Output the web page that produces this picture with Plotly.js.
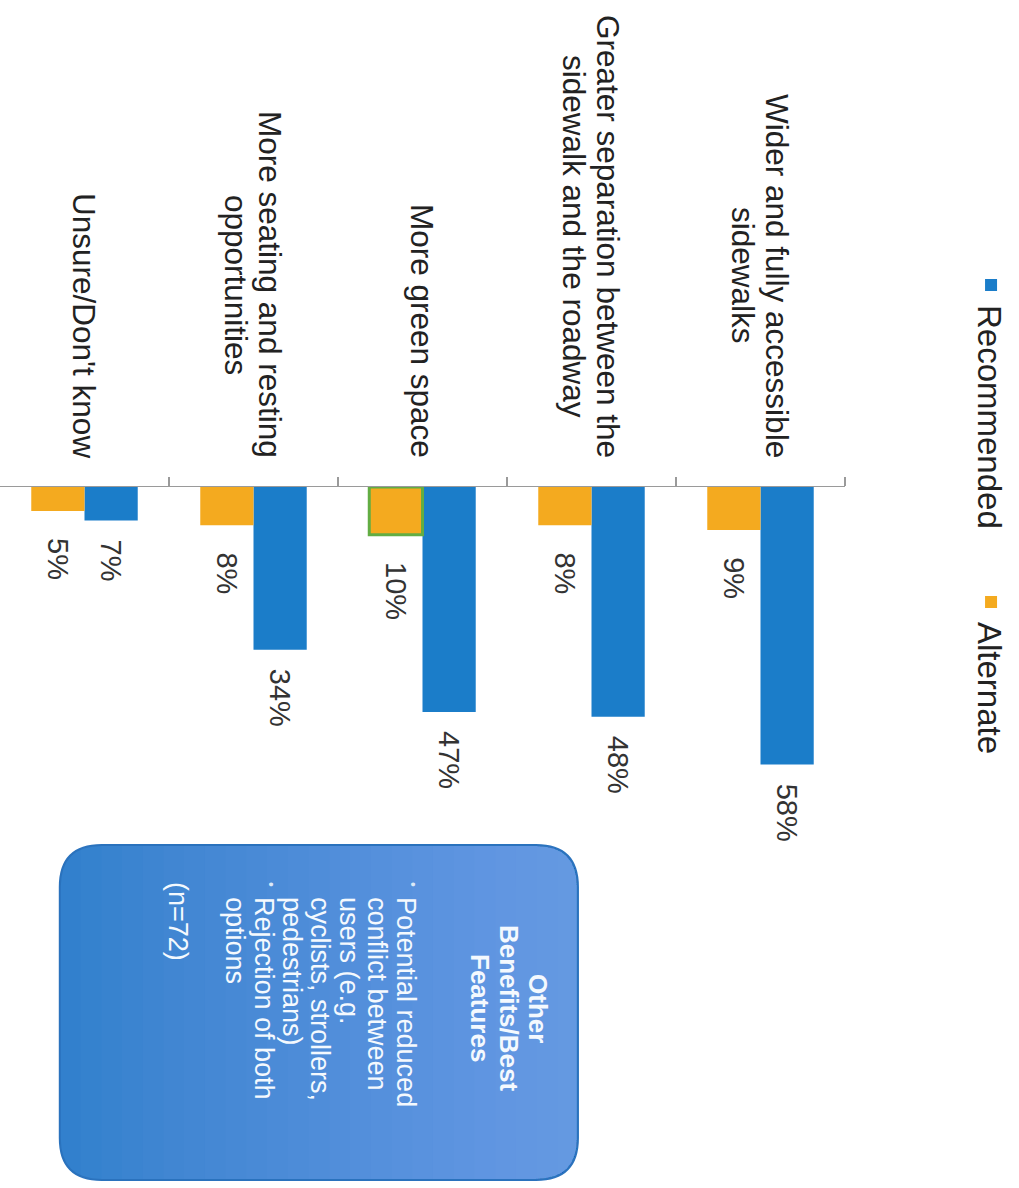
<!DOCTYPE html>
<html>
<head>
<meta charset="utf-8">
<script src="https://cdn.plot.ly/plotly-3.0.1.min.js"></script>
<style>
  html, body { margin: 0; padding: 0; background: #ffffff; overflow: hidden; width: 1019px; height: 1188px; }
  #chart { position: absolute; left: 0; top: 0; width: 1188px; height: 1019px;
           transform-origin: 0 0; transform: translate(1019px, 0px) rotate(90deg); }
</style>
</head>
<body>
<div id="chart"></div>
<script>
// ---- data ----
const categories = [
  "Wider and fully accessible sidewalks",
  "Greater separation between the sidewalk and the roadway",
  "More green space",
  "More seating and resting opportunities",
  "Unsure/Don't know"
];
const categoryLabelLines = [
  ["Wider and fully accessible", "sidewalks"],
  ["Greater separation between the", "sidewalk and the roadway"],
  ["More green space"],
  ["More seating and resting", "opportunities"],
  ["Unsure/Don't know"]
];
const recommended = [58, 48, 47, 34, 7];
const alternate = [9, 8, 10, 8, 5];
const seriesNames = ["Recommended", "Alternate"];
const highlightIndex = 2; // outlined alternate bar
const boxTitle = ["Other", "Benefits/Best", "Features"];
const boxBullets = [
  ["Potential reduced", "conflict between", "users (e.g.", "cyclists, strollers,", "pedestrians)"],
  ["Rejection of both", "options"]
];
const boxNote = "(n=72)";

// ---- layout geometry (unrotated chart, 1188 x 1019) ----
const W = 1188, H = 1019;
const L = 487, T = 171, PW = 335, PH = 848;
const px = x => (x - L) / PW;
const py = y => 1 - (y - T) / PH;

const blue = "#1b7dc9", orange = "#f4aa1f", green = "#62ad43";
const font = 'Arial, "Liberation Sans", sans-serif';
const labelSize = 31.5, labelLineStep = 34, labelGap = 29;

// measure text widths to centre multi-line category labels
const cv = document.createElement("canvas").getContext("2d");
cv.font = labelSize + 'px Arial, "Liberation Sans", sans-serif';
const tw = s => cv.measureText(s).width;

const traces = [
  {
    type: "bar", orientation: "h", name: seriesNames[0],
    y: categories, x: recommended,
    marker: { color: blue },
    texttemplate: "\u00a0\u00a0%{x}%", textposition: "outside", cliponaxis: false,
    constraintext: "none",
    textfont: { family: font, size: 29, color: "#333333" },
    hoverinfo: "x+y"
  },
  {
    type: "bar", orientation: "h", name: seriesNames[1],
    y: categories, x: alternate,
    marker: {
      color: orange,
      line: {
        color: alternate.map((v, i) => i === highlightIndex ? green : "rgba(0,0,0,0)"),
        width: alternate.map((v, i) => i === highlightIndex ? 3 : 0)
      }
    },
    texttemplate: "\u00a0\u00a0\u00a0%{x}%", textposition: "outside", cliponaxis: false,
    constraintext: "none",
    textfont: { family: font, size: 29, color: "#333333" },
    hoverinfo: "x+y"
  }
];

const annotations = [];
categories.forEach((c, i) => {
  const lines = categoryLabelLines[i];
  const maxW = Math.max(...lines.map(tw));
  const n = lines.length;
  lines.forEach((ln, k) => {
    annotations.push({
      xref: "paper", yref: "y", x: 0, y: c, xanchor: "center", yanchor: "middle",
      xshift: -labelGap - maxW / 2, yshift: -(k - (n - 1) / 2) * labelLineStep,
      text: ln, showarrow: false, align: "center",
      font: { family: font, size: labelSize, color: "#222222" }
    });
  });
});

// box contents
const boxL = 845, boxR = 1180, boxT = 439, boxB = 959, rad = 42;
const titleY = [479, 508, 537];
const boxText = "#f4f9fe";
boxTitle.forEach((t, i) => annotations.push({
  xref: "paper", yref: "paper", x: px(1008), y: py(titleY[i]), xanchor: "center", yanchor: "middle",
  text: "<b>" + t + "</b>", showarrow: false, font: { family: font, size: 26, color: boxText }
}));
let lineY = 612;
const lineStep = 28.5;
boxBullets.forEach(lines => {
  annotations.push({
    xref: "paper", yref: "paper", x: px(880), y: py(lineY - 7), xanchor: "left", yanchor: "middle",
    text: "•", showarrow: false, font: { family: font, size: 14, color: "#dbe9f7" }
  });
  lines.forEach(l => {
    annotations.push({
      xref: "paper", yref: "paper", x: px(895), y: py(lineY), xanchor: "left", yanchor: "middle",
      text: l, showarrow: false, font: { family: font, size: 27, color: boxText }
    });
    lineY += lineStep;
  });
});
annotations.push({
  xref: "paper", yref: "paper", x: px(880), y: py(840), xanchor: "left", yanchor: "middle",
  text: boxNote, showarrow: false, font: { family: font, size: 27, color: boxText }
});

function roundedRect(x0, y0, x1, y1, r, roundBottom) {
  const X = v => px(v), Y = v => py(v);
  let p = `M${X(x0 + r)},${Y(y0)} L${X(x1 - r)},${Y(y0)} Q${X(x1)},${Y(y0)} ${X(x1)},${Y(y0 + r)} `;
  if (roundBottom) {
    p += `L${X(x1)},${Y(y1 - r)} Q${X(x1)},${Y(y1)} ${X(x1 - r)},${Y(y1)} ` +
         `L${X(x0 + r)},${Y(y1)} Q${X(x0)},${Y(y1)} ${X(x0)},${Y(y1 - r)} `;
  } else {
    p += `L${X(x1)},${Y(y1)} L${X(x0)},${Y(y1)} `;
  }
  p += `L${X(x0)},${Y(y0 + r)} Q${X(x0)},${Y(y0)} ${X(x0 + r)},${Y(y0)} Z`;
  return p;
}

const shapes = [{
  type: "path", xref: "paper", yref: "paper", layer: "below",
  path: roundedRect(boxL, boxT, boxR, boxB, rad, true),
  fillcolor: "#3280cd", line: { color: "#2a72bd", width: 2 }
}];
// soft vertical gradient: lighter towards the top of the box
const steps = 24;
for (let s = 1; s <= steps; s++) {
  const bottom = boxT + (boxB - boxT) * (1 - s / (steps + 1));
  shapes.push({
    type: "path", xref: "paper", yref: "paper", layer: "below",
    path: roundedRect(boxL + 1, boxT + 1, boxR - 1, bottom, rad - 1, false),
    fillcolor: "rgba(150,205,245,0.03)", line: { width: 0 }
  });
}

const layout = {
  width: W, height: H,
  margin: { l: L, r: W - L - PW, t: T, b: H - T - PH, pad: 0 },
  paper_bgcolor: "#ffffff", plot_bgcolor: "#ffffff",
  font: { family: font, color: "#222222" },
  barmode: "group", bargap: 0.37, bargroupgap: 0,
  showlegend: true,
  legend: {
    orientation: "h", x: px(265), xanchor: "left", y: py(24), yanchor: "middle",
    font: { family: font, size: 33, color: "#222222" },
    entrywidth: 272, entrywidthmode: "pixels", traceorder: "normal",
    bgcolor: "rgba(0,0,0,0)", itemclick: false, itemdoubleclick: false
  },
  xaxis: { range: [0, 70], visible: false, fixedrange: true },
  yaxis: {
    type: "category", autorange: "reversed", showticklabels: false,
    showline: true, linecolor: "#9a9a9a", linewidth: 1.5,
    ticks: "outside", tickson: "boundaries", ticklen: 9, tickcolor: "#9a9a9a", tickwidth: 1.5,
    showgrid: false, zeroline: false, fixedrange: true
  },
  shapes: shapes,
  annotations: annotations
};

Plotly.newPlot("chart", traces, layout, { displayModeBar: false, staticPlot: true });
</script>
</body>
</html>
